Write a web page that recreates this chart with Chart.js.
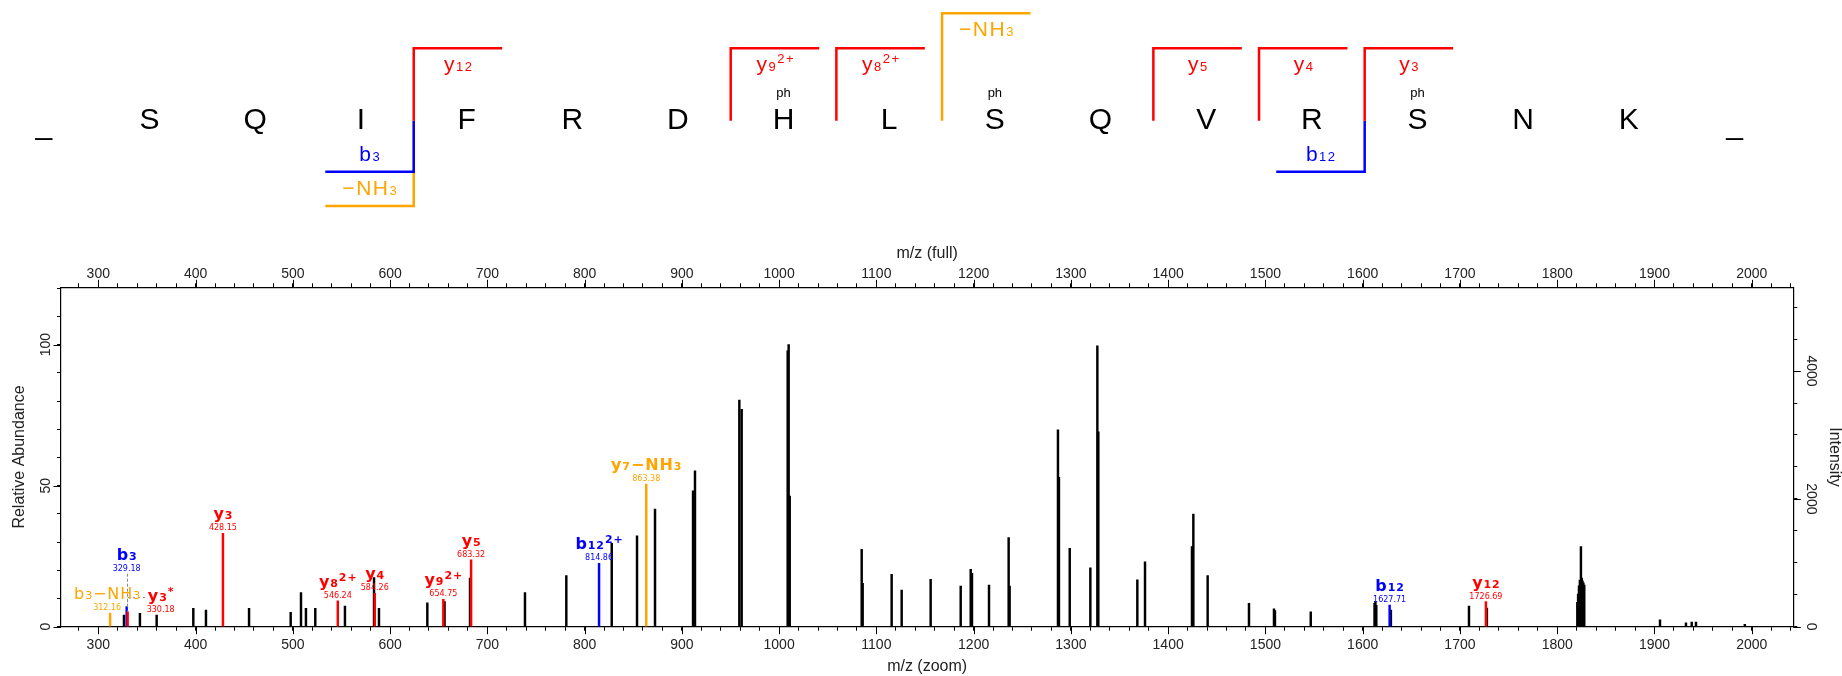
<!DOCTYPE html>
<html>
<head>
<meta charset="utf-8">
<script src="https://cdn.jsdelivr.net/npm/chart.js@4.4.1/dist/chart.umd.min.js"></script>
<style>
  html, body { margin:0; padding:0; background:#ffffff; }
  #wrap { position:relative; width:1842px; height:676px; overflow:hidden; background:#fff; }
  #seq { position:absolute; left:0; top:0; }
  #spec { position:absolute; left:0; top:230px; }
</style>
</head>
<body>
<div id="wrap">
  <canvas id="seq" width="1842" height="230" style="width:1842px;height:230px"></canvas>
  <canvas id="spec" width="1842" height="446" style="width:1842px;height:446px"></canvas>
</div>
<script>
// ---------------- DATA ----------------
// peptide sequence
const residues = ['S','Q','I','F','R','D','H','L','S','Q','V','R','S','N','K'];
const phosphoSites = [6, 8, 12];          // residue indices carrying "ph"

// fragments marked on the sequence
const fragSeries = ['y','y','y','y','y','y','y','b','b','b'];
const fragNumber = [12, 9, 8, 7, 5, 4, 3, 3, 3, 12];
const fragCharge = [1, 2, 2, 1, 1, 1, 1, 1, 1, 1];
const fragLoss   = ['', '', '', 'NH3', '', '', '', '', 'NH3', ''];

// annotated peaks (m/z, relative abundance %)
const yIonNames = ['y3*', 'y3', 'y8 2+', 'y4', 'y9 2+', 'y5', 'y12'];
const yIonMz    = [330.18, 428.15, 546.24, 584.26, 654.75, 683.32, 1726.69];
const yIonRel   = [5.3, 33.1, 9.2, 11.8, 9.7, 23.7, 8.9];

const bIonNames = ['b3', 'b12 2+', 'b12'];
const bIonMz    = [329.18, 814.86, 1627.71];
const bIonRel   = [7.1, 22.5, 7.7];

const lossNames = ['b3-NH3', 'y7-NH3'];
const lossMz    = [312.16, 863.38];
const lossRel   = [4.8, 50.6];

// unassigned peaks
const otherMz = [326.4, 342.8, 360.0, 397.7, 410.7, 455.0, 497.8, 508.4, 513.5, 523.1,
  553.6, 583.5, 588.6, 638.3, 656.0, 682.2, 738.7, 781.2, 827.9, 853.9,
  872.4, 911.5, 913.5, 959.1, 961.5, 1008.8, 1009.8, 1010.9, 1084.9, 1085.9,
  1115.7, 1126.0, 1155.8, 1186.7, 1197.0, 1198.3, 1215.8, 1236.0, 1237.0, 1286.7,
  1287.7, 1298.8, 1320.0, 1327.2, 1328.2, 1368.3, 1376.2, 1424.5, 1425.9, 1440.6,
  1483.1, 1508.8, 1509.8, 1546.6, 1612.2, 1613.1, 1614.0, 1629.0, 1709.3, 1727.7,
  1820.7, 1821.5, 1822.4, 1823.3, 1824.4, 1825.2, 1826.0, 1826.9, 1827.8,
  1905.7, 1932.4, 1938.3, 1942.7, 1992.9];
const otherRel = [4.1, 4.7, 4.1, 6.5, 5.9, 6.5, 5.1, 12.1, 6.5, 6.5,
  7.3, 17.4, 6.5, 8.5, 8.9, 17.2, 12.1, 18.1, 29.6, 32.2,
  41.7, 48.2, 55.3, 80.4, 77.1, 97.8, 100.0, 46.3, 27.4, 15.4,
  18.6, 13.0, 16.8, 14.4, 20.3, 18.9, 14.8, 31.6, 14.4, 69.8,
  53.0, 27.8, 20.9, 99.6, 69.1, 16.6, 23.0, 28.4, 39.9, 18.1,
  8.3, 6.3, 5.7, 5.3, 8.3, 9.0, 7.6, 5.9, 7.3, 6.6,
  8.6, 11.6, 14.5, 16.5, 28.4, 17.2, 16.3, 15.6, 14.8,
  2.4, 1.4, 1.6, 1.6, 0.8];

// axis ranges / ticks
const xRange = [261.65, 2042.75];
const relRange = [0, 120.35];
const intensityPerPercent = 44.13;   // intensity of 1 % relative abundance
const xMinorStep = 20, xMajorStep = 100;
const relMinorStep = 10, relMajorStep = 50;
const intMinorStep = 500, intMajorStep = 2000;

// ---------------- STYLE ----------------
const COL = { y:'#ff0000', b:'#0000ff', loss:'#ffa500', other:'#000000' };
const AXIS_FONT = '"Liberation Sans", Arial, sans-serif';
const LABEL_FONT = '"DejaVu Sans", Verdana, sans-serif';
const TXT = '#222222';

// label nudges (layout only)
const labelNudge = {
  'b3':     { dy:-33, leader:'dash' },
  'y3*':    { dx:33, dy:3.5, leader:'dot' },
  'b3-NH3': { dx:-3, bold:false }
};

// ---------- helpers ----------
function parseIon(name) {
  const m = name.match(/^([a-z])(\d+)(\*?)(?: (\d\+))?(?:-(NH3|H2O))?$/);
  const segs = [{t:m[1], k:'big'}, {t:m[2], k:'sub'}];
  if (m[3]) segs.push({t:'*', k:'sup'});
  if (m[4]) segs.push({t:m[4], k:'sup'});
  if (m[5]) { segs.push({t:'\u2212' + m[5].slice(0, -1), k:'big'}); segs.push({t:m[5].slice(-1), k:'sub'}); }
  return segs;
}
function richWidth(ctx, segs, st) {
  let w = 0;
  for (const s of segs) {
    ctx.font = st.fonts[s.k];
    for (const ch of s.t) w += ctx.measureText(ch).width + st.ls;
  }
  return w - st.ls;
}
function drawRich(ctx, segs, cx, baseline, color, st) {
  const total = richWidth(ctx, segs, st);
  let x = cx - total / 2;
  ctx.fillStyle = color; ctx.textAlign = 'left'; ctx.textBaseline = 'alphabetic';
  for (const s of segs) {
    ctx.font = st.fonts[s.k];
    const yb = baseline - (s.k === 'sup' ? st.supRaise : 0);
    for (const ch of s.t) { ctx.fillText(ch, x, yb); x += ctx.measureText(ch).width + st.ls; }
  }
  return { left: cx - total / 2, right: cx + total / 2 };
}
const stepTicks = (lo, hi, step) => {
  const out = [];
  for (let k = Math.ceil(lo / step); k * step <= hi + 1e-9; k++) out.push({ value: k * step });
  return out;
};
const labelEvery = step => v => (Math.abs(v / step - Math.round(v / step)) < 1e-6 ? String(Math.round(v)) : '');

// ---------------- SEQUENCE PANEL ----------------
const L = residues.length;
const ARM = 0.837;
const LEVEL = { ion: 1.0, loss: 1.483, bIon: -0.704, bLoss: -1.178 };
const seqDatasets = [];
const seqLabels = [];
// ions first in array (drawn on top), losses after
const idxs = fragSeries.map((s, i) => i).sort((a, b) => (fragLoss[a] ? 1 : 0) - (fragLoss[b] ? 1 : 0));
idxs.forEach(i => {
  const isY = fragSeries[i] === 'y';
  const p = isY ? (L - fragNumber[i] - 0.5) : (fragNumber[i] - 0.5);
  const lv = isY ? (fragLoss[i] ? LEVEL.loss : LEVEL.ion) : (fragLoss[i] ? LEVEL.bLoss : LEVEL.bIon);
  const end = isY ? p + ARM : p - ARM;
  const color = fragLoss[i] ? COL.loss : COL[fragSeries[i]];
  seqDatasets.push({
    data: [{x:p, y:0}, {x:p, y:lv}, {x:end, y:lv}],
    showLine: true, borderColor: color, borderWidth: 2.5, pointRadius: 0,
    borderCapStyle: 'butt', borderJoinStyle: 'miter', fill: false, tension: 0
  });
  let segs;
  if (fragLoss[i]) segs = [{t:'\u2212' + fragLoss[i].slice(0, -1), k:'big'}, {t:fragLoss[i].slice(-1), k:'sub'}];
  else {
    segs = [{t:fragSeries[i], k:'big'}, {t:String(fragNumber[i]), k:'sub'}];
    if (fragCharge[i] > 1) segs.push({t:fragCharge[i] + '+', k:'sup'});
  }
  seqLabels.push({ segs, xc: (p + end) / 2, lv, up: isY, color });
});

const seqStyle = {
  fonts: { big: '21px "Liberation Sans", Arial, sans-serif',
           sub: '13px "Liberation Sans", Arial, sans-serif',
           sup: '13px "Liberation Sans", Arial, sans-serif' },
  ls: 1.5, supRaise: 8
};

const seqTextPlugin = {
  id: 'seqText',
  afterDatasetsDraw(chart) {
    const ctx = chart.ctx, xs = chart.scales.x, ys = chart.scales.y;
    ctx.save();
    const y0 = ys.getPixelForValue(0);
    ctx.fillStyle = '#000'; ctx.textAlign = 'center'; ctx.textBaseline = 'alphabetic';
    ctx.font = '30px "Liberation Sans", Arial, sans-serif';
    const seqWithEnds = ['_'].concat(residues, ['_']);
    seqWithEnds.forEach((r, k) => {
      const px = xs.getPixelForValue(k - 1);
      ctx.fillText(r, px, y0 + (r === '_' ? 13 : 8.6));
    });
    ctx.font = '13px "Liberation Sans", Arial, sans-serif';
    phosphoSites.forEach(k => ctx.fillText('ph', xs.getPixelForValue(k), y0 - 23.5));
    seqLabels.forEach(lb => {
      const armPx = ys.getPixelForValue(lb.lv);
      const base = lb.up ? armPx + 22.5 : armPx - 11;
      drawRich(ctx, lb.segs, xs.getPixelForValue(lb.xc), base, lb.color, seqStyle);
    });
    ctx.restore();
  }
};

new Chart(document.getElementById('seq'), {
  type: 'scatter',
  data: { datasets: seqDatasets },
  options: {
    responsive: false, animation: false, devicePixelRatio: 1,
    layout: { padding: 0 },
    plugins: { legend: { display: false }, tooltip: { enabled: false } },
    scales: {
      x: { type: 'linear', display: false, min: -1.4158, max: 16.0175 },
      y: { type: 'linear', display: false, min: -1.5097, max: 1.6671 }
    },
    datasets: { scatter: { clip: false } }
  },
  plugins: [seqTextPlugin]
});

// ---------------- SPECTRUM ----------------
const toXY = (mz, rel) => mz.map((m, i) => ({ x: m, y: rel[i] }));
const specStyle = {
  fonts: { big: 'bold 16px ' + LABEL_FONT, sub: 'bold 11px ' + LABEL_FONT, sup: 'bold 11px ' + LABEL_FONT },
  ls: 0.9, supRaise: 6
};
const specStyleRegular = {
  fonts: { big: '16px ' + LABEL_FONT, sub: '11px ' + LABEL_FONT, sup: '11px ' + LABEL_FONT },
  ls: 0.9, supRaise: 6
};

const annotated = [];
yIonNames.forEach((n, i) => annotated.push({ name:n, mz:yIonMz[i], rel:yIonRel[i], color:COL.y }));
bIonNames.forEach((n, i) => annotated.push({ name:n, mz:bIonMz[i], rel:bIonRel[i], color:COL.b }));
lossNames.forEach((n, i) => annotated.push({ name:n, mz:lossMz[i], rel:lossRel[i], color:COL.loss }));

const peakLabelPlugin = {
  id: 'peakLabels',
  afterDatasetsDraw(chart) {
    const ctx = chart.ctx, xs = chart.scales.x, ys = chart.scales.y;
    ctx.save();
    annotated.forEach(a => {
      const nd = labelNudge[a.name] || {};
      const px = xs.getPixelForValue(a.mz);
      const top = ys.getPixelForValue(a.rel);
      const cx = px + (nd.dx || 0);
      const mzBase = top - 3 + (nd.dy || 0);
      const lbBase = top - 14 + (nd.dy || 0);
      ctx.fillStyle = a.color; ctx.textAlign = 'center'; ctx.textBaseline = 'alphabetic';
      ctx.font = '8px ' + LABEL_FONT;
      ctx.fillText(a.mz.toFixed(2), cx, mzBase);
      const st = nd.bold === false ? specStyleRegular : specStyle;
      const ext = drawRich(ctx, parseIon(a.name), cx, lbBase, a.color, st);
      if (nd.leader === 'dash') {
        ctx.strokeStyle = '#8a8a8a'; ctx.lineWidth = 1; ctx.setLineDash([3, 2]);
        ctx.beginPath(); ctx.moveTo(Math.round(px) + 0.5, mzBase + 3); ctx.lineTo(Math.round(px) + 0.5, top); ctx.stroke();
        ctx.setLineDash([]);
      } else if (nd.leader === 'dot') {
        const yl = Math.round(lbBase - 4) + 0.5;
        ctx.strokeStyle = '#8a8a8a'; ctx.lineWidth = 1; ctx.setLineDash([2, 3]);
        ctx.beginPath(); ctx.moveTo(ext.left - 3, yl); ctx.lineTo(px, yl); ctx.lineTo(px, top); ctx.stroke();
        ctx.setLineDash([]);
      }
    });
    ctx.restore();
  }
};

// long major tick marks + rotated labels on the right intensity axis
const axisExtrasPlugin = {
  id: 'axisExtras',
  afterDraw(chart, args, opts) {
    const ctx = chart.ctx;
    ctx.save(); ctx.strokeStyle = '#000'; ctx.lineWidth = 1;
    Object.keys(opts.steps).forEach(id => {
      const s = chart.scales[id], step = opts.steps[id];
      s.ticks.forEach(t => {
        const q = t.value / step;
        if (Math.abs(q - Math.round(q)) > 1e-6) return;
        const p = Math.round(s.getPixelForValue(t.value)) + 0.5;
        ctx.beginPath();
        if (s.position === 'bottom') { ctx.moveTo(p, s.top); ctx.lineTo(p, s.top + opts.len); }
        else if (s.position === 'top') { ctx.moveTo(p, s.bottom); ctx.lineTo(p, s.bottom - opts.len); }
        else if (s.position === 'left') { ctx.moveTo(s.right, p); ctx.lineTo(s.right - opts.len, p); }
        else { ctx.moveTo(s.left, p); ctx.lineTo(s.left + opts.len, p); }
        ctx.stroke();
      });
    });
    // right axis labels, rotated clockwise
    const r = chart.scales.yI;
    const fmt = labelEvery(intMajorStep);
    ctx.fillStyle = TXT; ctx.font = '14px ' + AXIS_FONT; ctx.textAlign = 'center'; ctx.textBaseline = 'middle';
    r.ticks.forEach(t => {
      const lab = fmt(t.value);
      if (!lab) return;
      ctx.save();
      ctx.translate(r.left + opts.rightLabelOffset, r.getPixelForValue(t.value));
      ctx.rotate(Math.PI / 2);
      ctx.fillText(lab, 0, 0);
      ctx.restore();
    });
    ctx.restore();
  }
};

const gridOpts = { drawOnChartArea: false, drawTicks: true, tickLength: 4, color: '#000', tickColor: '#000', tickWidth: 1, offset: false };
const borderOpts = { display: true, color: '#000', width: 1.2 };
const tickFont = { family: AXIS_FONT, size: 14 };
const titleFont = { family: AXIS_FONT, size: 16 };

new Chart(document.getElementById('spec'), {
  type: 'bar',
  data: {
    datasets: [
      { label: 'y ions', data: toXY(yIonMz, yIonRel), backgroundColor: COL.y },
      { label: 'b ions', data: toXY(bIonMz, bIonRel), backgroundColor: COL.b },
      { label: 'neutral loss', data: toXY(lossMz, lossRel), backgroundColor: COL.loss },
      { label: 'other', data: toXY(otherMz, otherRel), backgroundColor: COL.other }
    ]
  },
  options: {
    responsive: false, animation: false, devicePixelRatio: 1,
    layout: { padding: 0 },
    datasets: { bar: { barThickness: 1.8, grouped: false, borderWidth: 0, xAxisID: 'x', yAxisID: 'y' } },
    plugins: { legend: { display: false }, tooltip: { enabled: false },
      axisExtras: { len: 7.5, rightLabelOffset: 17.5, steps: { x: xMajorStep, xTop: xMajorStep, y: relMajorStep, yI: intMajorStep } } },
    scales: {
      x: {
        type: 'linear', position: 'bottom', min: xRange[0], max: xRange[1], offset: false,
        afterFit: s => { s.height = 49.3; },
        grid: gridOpts, border: borderOpts,
        ticks: { stepSize: xMinorStep, autoSkip: false, includeBounds: false, maxRotation: 0, minRotation: 0,
                 padding: 6.5, font: tickFont, color: TXT, callback: labelEvery(xMajorStep) },
        title: { display: true, text: 'm/z (zoom)', font: titleFont, color: TXT, padding: { top: 0, bottom: -0.6 } }
      },
      xTop: {
        type: 'linear', position: 'top', min: xRange[0], max: xRange[1], offset: false,
        afterFit: s => { s.height = 57.3; },
        grid: gridOpts, border: borderOpts,
        ticks: { stepSize: xMinorStep, autoSkip: false, includeBounds: false, maxRotation: 0, minRotation: 0,
                 padding: 0.8, font: tickFont, color: TXT, callback: labelEvery(xMajorStep) },
        title: { display: true, text: 'm/z (full)', font: titleFont, color: TXT, padding: { top: 14.2, bottom: 0 } }
      },
      y: {
        type: 'linear', position: 'left', min: relRange[0], max: relRange[1],
        afterFit: s => { s.width = 61; },
        grid: gridOpts, border: borderOpts,
        ticks: { stepSize: relMinorStep, autoSkip: false, includeBounds: false, minRotation: 90, maxRotation: 90,
                 crossAlign: 'center', padding: -0.5, font: tickFont, color: TXT, callback: labelEvery(relMajorStep) },
        title: { display: true, text: 'Relative Abundance', font: titleFont, color: TXT, padding: { top: 10, bottom: 0 } }
      },
      yI: {
        type: 'linear', position: 'right', min: relRange[0] * intensityPerPercent, max: relRange[1] * intensityPerPercent,
        afterFit: s => { s.width = 48.7; },
        afterBuildTicks: s => { s.ticks = stepTicks(s.min, s.max, intMinorStep); },
        grid: gridOpts, border: borderOpts,
        ticks: { autoSkip: false, display: false, callback: labelEvery(intMajorStep) },
        title: { display: true, text: 'Intensity', font: titleFont, color: TXT, padding: { top: -1.6, bottom: 0 } }
      }
    }
  },
  plugins: [peakLabelPlugin, axisExtrasPlugin]
});
</script>
</body>
</html>
